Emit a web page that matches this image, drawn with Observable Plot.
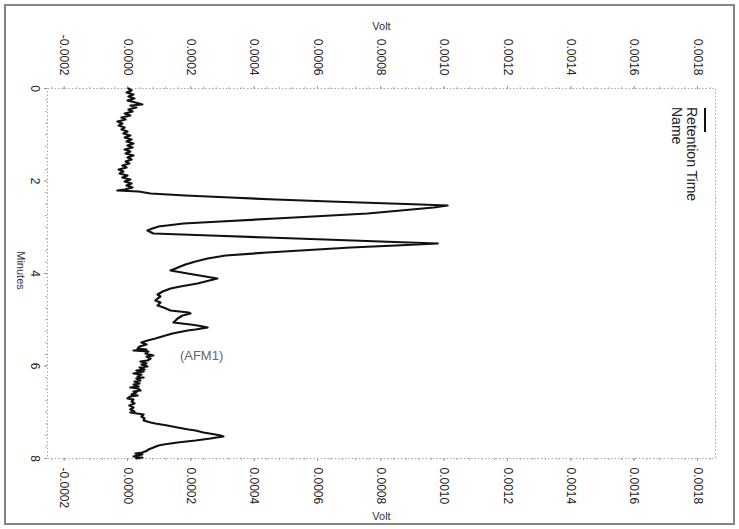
<!DOCTYPE html>
<html><head><meta charset="utf-8">
<script src="https://cdn.jsdelivr.net/npm/d3@7"></script>
<script src="https://cdn.jsdelivr.net/npm/@observablehq/plot@0.6"></script>
<style>
html,body{margin:0;padding:0;background:#fff;}
#wrap{position:relative;width:739px;height:529px;overflow:hidden;font-family:"Liberation Sans",Arial,sans-serif;}
#border{position:absolute;left:4px;top:4px;width:727px;height:517px;border:2px solid #858585;pointer-events:none;}
.vt{position:absolute;writing-mode:vertical-rl;white-space:nowrap;color:#222;line-height:14px;}
#swatch{position:absolute;left:704px;top:108px;width:2px;height:24px;background:#111;}
</style></head><body>
<div id="wrap">
  <div id="border"></div>
  <div id="swatch"></div>
  <div class="vt" style="left:685px;top:107px;font-size:14px;">Retention Time</div>
  <div class="vt" style="left:670px;top:107px;font-size:14px;">Name</div>
</div>
<script>
// Retention time (minutes)
const minutes = [0.000,0.043,0.086,0.130,0.173,0.216,0.259,0.303,0.346,0.368,0.411,0.454,0.497,0.541,0.584,0.627,0.670,0.714,0.757,0.800,0.843,0.886,0.930,0.973,1.016,1.059,1.103,1.146,1.189,1.232,1.276,1.319,1.362,1.405,1.449,1.492,1.535,1.578,1.622,1.665,1.708,1.751,1.795,1.838,1.881,1.924,1.968,2.011,2.054,2.097,2.141,2.184,2.205,2.227,2.270,2.314,2.357,2.400,2.443,2.486,2.508,2.530,2.551,2.573,2.638,2.703,2.768,2.811,2.876,2.919,2.984,3.027,3.070,3.135,3.178,3.222,3.265,3.308,3.351,3.395,3.438,3.503,3.546,3.611,3.676,3.741,3.805,3.849,3.892,3.935,4.000,4.065,4.108,4.173,4.216,4.281,4.324,4.389,4.454,4.497,4.541,4.584,4.627,4.692,4.735,4.800,4.843,4.865,4.908,4.973,5.016,5.059,5.103,5.124,5.168,5.211,5.232,5.297,5.341,5.405,5.449,5.492,5.535,5.578,5.622,5.643,5.665,5.686,5.730,5.773,5.795,5.838,5.881,5.903,5.946,5.968,6.011,6.032,6.076,6.097,6.119,6.162,6.184,6.227,6.249,6.270,6.314,6.335,6.378,6.400,6.443,6.465,6.486,6.530,6.551,6.573,6.616,6.638,6.659,6.703,6.724,6.768,6.811,6.854,6.897,6.941,6.984,7.005,7.049,7.092,7.135,7.178,7.222,7.243,7.286,7.330,7.373,7.395,7.438,7.481,7.503,7.524,7.546,7.568,7.611,7.654,7.697,7.719,7.762,7.805,7.827,7.870,7.892,7.914,7.935,7.957,7.978,8.000];
// Detector signal (microvolts)
const signalMicroVolt = [3,13,-3,19,3,22,0,25,47,9,28,3,16,-9,9,-19,-6,-32,-16,-28,-9,-19,0,-13,9,-9,13,-3,19,0,16,-9,9,-6,19,0,13,-6,6,-16,-3,-28,-13,-25,0,-16,9,-9,13,-3,16,-9,-32,35,73,183,325,468,641,831,926,1011,989,967,863,758,585,468,294,177,98,79,63,82,262,442,623,799,980,847,705,547,442,310,253,215,183,167,152,136,190,246,284,246,221,167,136,111,95,104,95,88,104,95,114,136,193,199,174,158,152,145,199,221,253,215,190,142,120,88,63,44,60,38,32,60,19,66,57,82,60,73,63,41,60,44,63,38,54,28,51,19,44,32,51,28,41,22,38,19,35,9,32,41,19,28,13,32,9,0,19,13,22,6,19,9,22,9,51,44,54,51,73,88,126,158,193,215,240,278,294,303,281,262,215,158,114,98,82,66,63,47,25,47,32,19,47,28];

const voltTicks = [-0.0002,0,0.0002,0.0004,0.0006,0.0008,0.0010,0.0012,0.0014,0.0016,0.0018];
const voltLabels = ["-0.0002","0.0000","0.0002","0.0004","0.0006","0.0008","0.0010","0.0012","0.0014","0.0016","0.0018"];
const minuteTicks = [0,2,4,6,8];
const minuteLabels = ["0","2","4","6","8"];
const peakLabels = [{minute: 5.77, volt: 0.000234, text: "(AFM1)"}];

const data = minutes.map((t, i) => ({t, v: signalMicroVolt[i] * 1e-6}));
const minorVolt = d3.range(-0.00024, 0.00186, 0.00004);
const minorMin = d3.range(0, 8.001, 0.25);

const chart = Plot.plot({
  width: 739, height: 529,
  marginLeft: 47, marginRight: 24, marginTop: 88, marginBottom: 71,
  style: {fontFamily: "'Liberation Sans', Arial, sans-serif", fontSize: "12px", color: "#222", background: "transparent"},
  x: {domain: [-0.0002526, 0.0018569], axis: null},
  y: {domain: [0, 8], reverse: true, axis: null},
  marks: [
    Plot.frame({stroke: "#a8a8a8", strokeDasharray: "1.5,2"}),
    Plot.axisX({anchor: "top", ticks: minorVolt, tickSize: 2, text: null, stroke: "#aaa", label: null}),
    Plot.axisX({anchor: "bottom", ticks: minorVolt, tickSize: 2, text: null, stroke: "#aaa", label: null}),
    Plot.axisY({anchor: "left", ticks: minorMin, tickSize: 2, text: null, stroke: "#aaa", label: null}),
    Plot.axisX({anchor: "top", ticks: voltTicks, tickFormat: d => voltLabels[voltTicks.indexOf(d)], tickRotate: 90, tickSize: 3, tickPadding: 10, stroke: "#999", fill: "#222", label: null, fontSize: 12}),
    Plot.axisX({anchor: "bottom", ticks: voltTicks, tickFormat: d => voltLabels[voltTicks.indexOf(d)], tickRotate: 90, tickSize: 3, tickPadding: 6, stroke: "#999", fill: "#222", label: null, fontSize: 12}),
    Plot.axisY({anchor: "left", ticks: minuteTicks, tickFormat: d => minuteLabels[minuteTicks.indexOf(d)], tickRotate: 90, tickSize: 3, tickPadding: 5, stroke: "#999", fill: "#222", label: null, fontSize: 12}),
    Plot.text(["Minutes"], {frameAnchor: "left", textAnchor: "middle", lineAnchor: "middle", dx: -27, dy: -3, rotate: 90, fontSize: 11, fill: "#333"}),
    Plot.text(["Volt"], {frameAnchor: "top", dy: -66, fontSize: 11, fill: "#333"}),
    Plot.text(["Volt"], {frameAnchor: "bottom", dy: 61, fontSize: 11, fill: "#333"}),
    Plot.line(data, {x: "v", y: "t", stroke: "#111", strokeWidth: 2.2, strokeLinejoin: "round"}),
    Plot.text(peakLabels, {x: "volt", y: "minute", text: "text", fontSize: 13, fill: "#666"})
  ]
});
document.getElementById("wrap").prepend(chart);
</script>
</body></html>
